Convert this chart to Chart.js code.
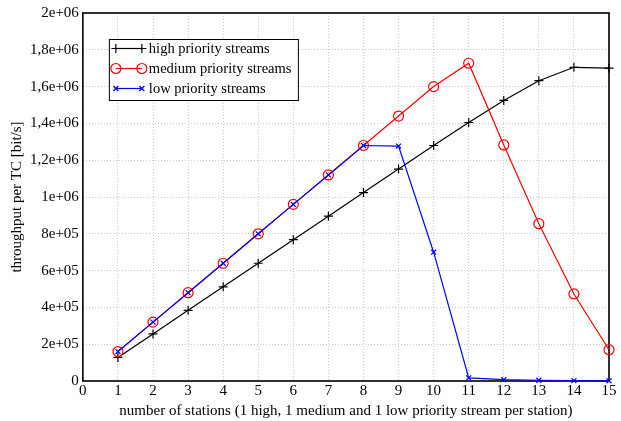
<!DOCTYPE html>
<html>
<head>
<meta charset="utf-8">
<script src="https://cdn.jsdelivr.net/npm/chart.js@4"></script>
<style>
  html, body { margin: 0; padding: 0; background: #fff; }
  #wrap { width: 621px; height: 421px; }
</style>
</head>
<body>
<div id="wrap"><canvas id="tc-chart"></canvas></div>
<script>
const stations = [1, 2, 3, 4, 5, 6, 7, 8, 9, 10, 11, 12, 13, 14, 15];
const highPriority = [128000, 256000, 384000, 512000, 640000, 768000, 896000, 1024000, 1152000, 1280000, 1405000, 1525000, 1632000, 1705000, 1700000];
const mediumPriority = [160000, 320000, 480000, 640000, 800000, 960000, 1120000, 1280000, 1440000, 1600000, 1727000, 1283000, 855000, 473000, 170000];
const lowPriority = [160000, 320000, 480000, 640000, 800000, 960000, 1120000, 1280000, 1277000, 700000, 17000, 7000, 4000, 2000, 1000];

const seriesNames = ["high priority streams", "medium priority streams", "low priority streams"];
const FONT = "'Liberation Serif', 'DejaVu Serif', serif";

function sciLabel(v) {
  if (v === 0) return "0";
  const e = Math.floor(Math.log10(v) + 1e-9);
  let m = +(v / Math.pow(10, e)).toFixed(3);
  const ms = String(m).replace(".", ",");
  return ms + "e+" + String(e).padStart(2, "0");
}

function toPoints(values) {
  return values.map((v, i) => ({ x: stations[i], y: v }));
}

// frame around the plot area + boxed legend in the upper left
const framePlugin = {
  id: "frame",
  beforeDatasetsDraw(chart) {
    const { ctx, chartArea: a } = chart;
    ctx.save();
    ctx.strokeStyle = "#000";
    ctx.lineWidth = 1.6;
    ctx.strokeRect(a.left, a.top, a.right - a.left, a.bottom - a.top);
    ctx.restore();
  },
  afterDatasetsDraw(chart) {
    const { ctx, chartArea: a } = chart;
    const x0 = a.left + 26, y0 = a.top + 26;
    const w = 189, h = 61;
    ctx.save();
    ctx.fillStyle = "#fff";
    ctx.fillRect(x0, y0, w, h);
    ctx.strokeStyle = "#000";
    ctx.lineWidth = 1;
    ctx.strokeRect(x0 + 0.5, y0 + 0.5, w, h);
    ctx.font = "14.5px " + FONT;
    ctx.textBaseline = "middle";
    chart.data.datasets.forEach((ds, i) => {
      const y = y0 + 9.5 + i * 20;
      const lx1 = x0 + 7, lx2 = x0 + 33;
      ctx.strokeStyle = ds.borderColor;
      ctx.lineWidth = 1.2;
      ctx.beginPath();
      ctx.moveTo(lx1, y);
      ctx.lineTo(lx2, y);
      ctx.stroke();
      [lx1, lx2].forEach((px) => {
        ctx.fillStyle = "rgba(0,0,0,0)";
        ctx.strokeStyle = ds.pointBorderColor;
        ctx.lineWidth = ds.pointBorderWidth;
        Chart.helpers.drawPoint(ctx, {
          pointStyle: ds.pointStyle,
          radius: ds.pointRadius,
          rotation: 0,
          borderWidth: ds.pointBorderWidth
        }, px, y);
      });
      ctx.fillStyle = "#000";
      ctx.fillText(ds.label, x0 + 40, y + 1);
    });
    ctx.restore();
  }
};

const ctx = document.getElementById("tc-chart").getContext("2d");

new Chart(ctx, {
  type: "line",
  plugins: [framePlugin],
  data: {
    datasets: [
      {
        label: seriesNames[0],
        data: toPoints(highPriority),
        order: 2,
        borderColor: "#000000",
        pointStyle: "cross",
        pointRadius: 4.5,
        pointBorderWidth: 1.2,
        pointBorderColor: "#000000",
        borderWidth: 1.2,
        fill: false,
        clip: false
      },
      {
        label: seriesNames[1],
        data: toPoints(mediumPriority),
        order: 1,
        borderColor: "#ff0000",
        pointStyle: "circle",
        pointRadius: 5,
        pointBorderWidth: 1.2,
        pointBorderColor: "#ff0000",
        pointBackgroundColor: "rgba(0,0,0,0)",
        borderWidth: 1.2,
        fill: false,
        clip: false
      },
      {
        label: seriesNames[2],
        data: toPoints(lowPriority),
        order: 0,
        borderColor: "#0000ff",
        pointStyle: "crossRot",
        pointRadius: 3.5,
        pointBorderWidth: 1.2,
        pointBorderColor: "#0000ff",
        borderWidth: 1.2,
        fill: false,
        clip: false
      }
    ]
  },
  options: {
    responsive: true,
    maintainAspectRatio: false,
    animation: false,
    layout: {
      padding: { top: 13, right: 12, bottom: 1, left: 4 }
    },
    elements: {
      line: { tension: 0 }
    },
    scales: {
      x: {
        type: "linear",
        min: 0,
        max: 15,
        ticks: {
          stepSize: 1,
          color: "#000",
          font: { family: FONT, size: 15 },
          padding: 1
        },
        grid: {
          color: "#cccccc",
          lineWidth: 1,
          drawTicks: false
        },
        border: { display: false, dash: [1, 2] },
        title: {
          display: true,
          text: "number of stations (1 high, 1 medium and 1 low priority stream per station)",
          color: "#000",
          font: { family: FONT, size: 15 },
          padding: { top: 1, bottom: 0 }
        }
      },
      y: {
        type: "linear",
        min: 0,
        max: 2000000,
        ticks: {
          stepSize: 200000,
          color: "#000",
          font: { family: FONT, size: 15 },
          padding: 4,
          callback: (v) => sciLabel(v)
        },
        grid: {
          color: "#cccccc",
          lineWidth: 1,
          drawTicks: false
        },
        border: { display: false, dash: [1, 2] },
        title: {
          display: true,
          text: "throughput per TC [bit/s]",
          color: "#000",
          font: { family: FONT, size: 15 },
          padding: { top: 4, bottom: 0 }
        }
      }
    },
    plugins: {
      legend: { display: false },
      tooltip: { enabled: false }
    }
  }
});
</script>
</body>
</html>
